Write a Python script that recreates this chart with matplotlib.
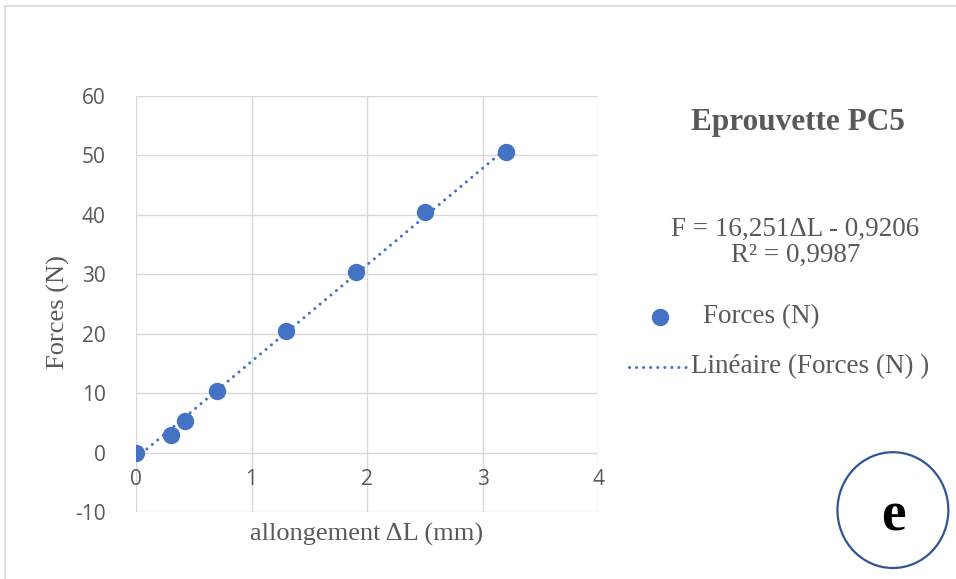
import matplotlib.pyplot as plt
import numpy as np
from matplotlib.lines import Line2D
from matplotlib.patches import Ellipse

# Mesures : allongement (mm) et forces (N)
allongement = [0, 0.3, 0.42, 0.7, 1.3, 1.9, 2.5, 3.2]
forces = [0, 3.0, 5.3, 10.4, 20.4, 30.4, 40.4, 50.5]

# Régression linéaire affichée
pente = 16.251
ordonnee = -0.9206
r2 = 0.9987

x_ticks = [0, 1, 2, 3, 4]
y_ticks = [-10, 0, 10, 20, 30, 40, 50, 60]

bleu = "#4472C4"
gris_texte = "#595959"
gris_grille = "#D9D9D9"
pointille = (0, (0.01, 2.3))

W, H = 956, 579
fig = plt.figure(figsize=(W / 100, H / 100), dpi=100)
ax = fig.add_axes([0.1423, 0.1157, 0.4833, 0.7185])

# grille
for xv in x_ticks:
    ax.axvline(xv, color=gris_grille, lw=1.0, zorder=0)
for yv in y_ticks:
    ax.axhline(yv, color=gris_grille, lw=1.0, zorder=0)

# courbe de tendance
xt = np.array([allongement[0], allongement[-1]])
ax.plot(xt, pente * xt + ordonnee, color=bleu, lw=2.2, ls=pointille,
        dash_capstyle="round", zorder=2)
ax.plot(allongement, forces, "o", color=bleu, ms=11.5, mec=bleu, zorder=3)

ax.set_xlim(0, 4)
ax.set_ylim(-10, 60)
ax.set_xticks(x_ticks)
ax.set_yticks(y_ticks)
ax.set_yticklabels([str(v) for v in y_ticks])
for s in ax.spines.values():
    s.set_visible(False)
ax.tick_params(length=0, labelsize=15, labelcolor=gris_texte)
for lab in ax.get_yticklabels():
    lab.set_family("Open Sans")
ax.tick_params(axis="y", pad=22)

# les étiquettes de l'axe x se trouvent sous la ligne y = 0
ax.set_xticklabels([])
for xv in x_ticks:
    ax.text(xv, -4.6, str(xv), ha="center", va="center", fontsize=15,
            color=gris_texte, family="Open Sans")

ax.set_xlabel("allongement ΔL (mm)", fontsize=19, color=gris_texte,
              family="Liberation Serif", labelpad=4)
ax.set_ylabel("Forces (N)", fontsize=19, color=gris_texte,
              family="Liberation Serif")
ax.yaxis.set_label_coords(-0.143, 0.48)

# titre et équation
fig.text(0.835, 0.789, "Eprouvette PC5", ha="center", va="center", fontsize=22.5,
         fontweight="bold", color=gris_texte, family="Liberation Serif")
fig.text(0.832, 0.582,
         "F = {}ΔL - {}\nR² = {}".format(str(pente).replace(".", ","),
                                        str(-ordonnee).replace(".", ","),
                                        str(r2).replace(".", ",")),
         ha="center", va="center", fontsize=19.5, color=gris_texte,
         family="Liberation Serif", linespacing=1.05)

# légende dessinée à la main (coordonnées en pixels)
def px(x, y):
    return x / W, 1 - y / H

fig.add_artist(Line2D([px(660, 0)[0]], [px(0, 317)[1]], marker="o", ls="none",
                      color=bleu, ms=11.5, transform=fig.transFigure))
fig.text(*px(703, 317), "Forces (N)", ha="left", va="center", fontsize=19.5,
         color=gris_texte, family="Liberation Serif")
fig.add_artist(Line2D([px(629, 0)[0], px(686, 0)[0]], [px(0, 367)[1]] * 2,
                      color=bleu, lw=2.2, ls=pointille, dash_capstyle="round",
                      transform=fig.transFigure))
fig.text(*px(691, 367), "Linéaire (Forces (N) )", ha="left", va="center",
         fontsize=19.5, color=gris_texte, family="Liberation Serif")

# cercle avec la lettre
fig.patches.append(Ellipse((0.934, 0.119), 0.116, 0.2, transform=fig.transFigure,
                           facecolor="white", edgecolor="#2F5597", lw=1.6))
fig.text(0.934, 0.119, "e", ha="center", va="center_baseline", fontsize=40,
         fontweight="bold", color="black", family="Liberation Serif")

# cadre
fig.add_artist(Line2D([0.005, 0.005], [0, 0.99], color=gris_grille, lw=1.2,
                      transform=fig.transFigure))
fig.add_artist(Line2D([0.005, 1], [0.99, 0.99], color=gris_grille, lw=1.2,
                      transform=fig.transFigure))

fig.savefig("out.png", dpi=100)
